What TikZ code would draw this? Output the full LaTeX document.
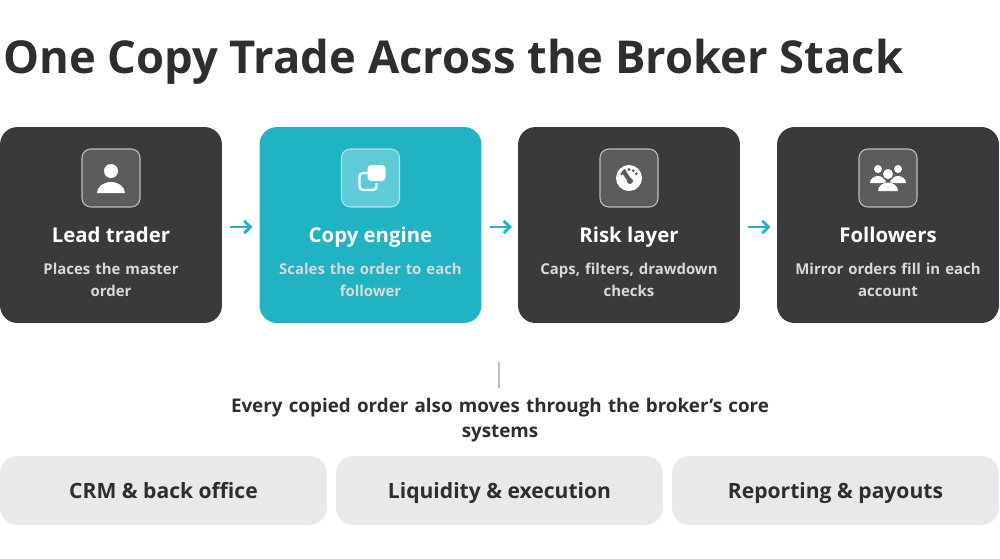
\documentclass[tikz,border=0pt]{standalone}
\usepackage{fontspec}
\setmainfont{Open Sans}
\usepackage{tikz}
\usetikzlibrary{positioning,arrows.meta,calc}
\definecolor{cardgray}{HTML}{3A393C}
\definecolor{teal}{HTML}{1FB3C4}
\definecolor{iconbg}{HTML}{5C5B5E}
\definecolor{iconteal}{HTML}{5ECBD7}
\definecolor{sysgray}{HTML}{E9E8EA}
\definecolor{inkgray}{HTML}{2E2D30}
\begin{document}
\begin{tikzpicture}[x=0.02cm, y=-0.02cm,
  card/.style={rounded corners=10pt, minimum width=4.44cm, minimum height=3.92cm,
    inner sep=0pt},
  icon/.style={draw=white!60!iconbg, line width=0.6pt, rounded corners=5pt,
    minimum size=1.16cm, inner sep=0pt},
  ttl/.style={font=\fontsize{11.6}{14}\selectfont\bfseries, text=white, anchor=base},
  sub/.style={font=\fontsize{8.5}{12.2}\selectfont\bfseries, text=white!85!black,
    align=center, text width=3.9cm},
  sys/.style={fill=sysgray, rounded corners=10pt, minimum width=6.54cm,
    minimum height=1.38cm, font=\fontsize{12}{13}\selectfont\bfseries, text=inkgray},
  arr/.style={-{Straight Barb[length=3.5pt,width=7pt]}, line width=1.6pt, teal}
]
  \useasboundingbox (0,0) rectangle (1000,558);

  % Heading
  \node[anchor=west, font=\fontsize{25.8}{30}\selectfont\bfseries, text=inkgray]
    (head) at (-3,62) {One Copy Trade Across the Broker Stack};

  % Top row: pipeline cards
  \node[card, fill=cardgray] (lead) at (111,225) {};
  \node[card, fill=teal]     (copy) at (370.5,225) {};
  \node[card, fill=cardgray] (risk) at (629,225) {};
  \node[card, fill=cardgray] (foll) at (888,225) {};

  % Icon tiles
  \foreach \c in {lead,risk,foll}
    \node[icon, fill=iconbg] (\c-ic) at ($(\c)+(0,-47)$) {};
  \node[icon, fill=iconteal, draw=white!50!iconteal] (copy-ic) at ($(copy)+(0,-47)$) {};

  % Icon glyphs
  \fill[white] ($(lead-ic)+(0,-7)$) circle (7);
  \fill[white] ($(lead-ic)+(-14,15)$) -- ($(lead-ic)+(14,15)$)
    arc[start angle=0, end angle=-180, x radius=14, y radius=11] -- cycle;
  \fill[white, rounded corners=2pt] ($(copy-ic)+(-3,-13)$) rectangle ($(copy-ic)+(15,3)$);
  \draw[white, line width=1.4pt, rounded corners=2pt]
    ($(copy-ic)+(-3,-5)$) -- ($(copy-ic)+(-11,-5)$) -- ($(copy-ic)+(-11,12)$)
    -- ($(copy-ic)+(6,12)$) -- ($(copy-ic)+(6,5)$);
  \fill[white] (risk-ic) circle (13);
  \foreach \a in {-150,-120,-90,-60,-30}
    \fill[iconbg] ($(risk-ic)+(\a:8.5)$) circle (1.6);
  \draw[iconbg, line width=2.4pt, line cap=round] ($(risk-ic)+(1,3)$) -- ($(risk-ic)+(-5,-6)$);
  \fill[iconbg] ($(risk-ic)+(1,3)$) circle (3);
  \foreach \dx/\r in {-10/4,10/4} {
    \fill[white] ($(foll-ic)+(\dx,-9)$) circle (\r);
    \fill[white] ($(foll-ic)+(\dx-8,5)$) -- ($(foll-ic)+(\dx+8,5)$)
      arc[start angle=0, end angle=-180, x radius=8, y radius=7] -- cycle;
  }
  \fill[iconbg] ($(foll-ic)+(0,-4)$) circle (6.5);
  \fill[white] ($(foll-ic)+(0,-4)$) circle (5);
  \fill[iconbg] ($(foll-ic)+(-12,14)$) -- ($(foll-ic)+(12,14)$)
    arc[start angle=0, end angle=-180, x radius=12, y radius=10] -- cycle;
  \fill[white] ($(foll-ic)+(-10,13)$) -- ($(foll-ic)+(10,13)$)
    arc[start angle=0, end angle=-180, x radius=10, y radius=8.5] -- cycle;

  % Titles and captions
  \foreach \c/\t/\s in {lead/Lead trader/Places the master\\order,
                        copy/Copy engine/Scales the order to each\\follower,
                        risk/Risk layer/{Caps, filters, drawdown\\checks},
                        foll/Followers/Mirror orders fill in each\\account} {
    \node[ttl] (\c-t) at ($(\c)+(0,17)$) {\t};
    \node[sub] (\c-s) at ($(\c)+(0,55)$) {\s};
  }

  % Arrows between cards
  \draw[arr] ([xshift=0.16cm]lead.east |- 0,227) -- ([xshift=0.6cm]lead.east |- 0,227);
  \draw[arr] ([xshift=0.16cm]copy.east |- 0,227) -- ([xshift=0.6cm]copy.east |- 0,227);
  \draw[arr] ([xshift=0.16cm]risk.east |- 0,227) -- ([xshift=0.6cm]risk.east |- 0,227);

  % Link to core systems
  \coordinate (tick) at (499,362);
  \node[font=\fontsize{10.7}{14}\selectfont\bfseries, text=inkgray, align=center,
    text width=12cm] (core) at (500,420)
    {Every copied order also moves through the broker's core\\systems};
  \draw[black!25, line width=1.2pt] (tick) -- ++(0,26);

  % Bottom row: core systems
  \node[sys] (crm) at (163.5,490.5) {};
  \node[sys] (liq) at (499.5,490.5) {};
  \node[sys] (rep) at (835.5,490.5) {};
  \foreach \b/\t in {crm/CRM \& back office, liq/Liquidity \& execution,
                     rep/Reporting \& payouts}
    \node[anchor=base, font=\fontsize{12}{13}\selectfont\bfseries, text=inkgray]
      at ($(\b)+(0,8)$) {\t};
\end{tikzpicture}
\end{document}
